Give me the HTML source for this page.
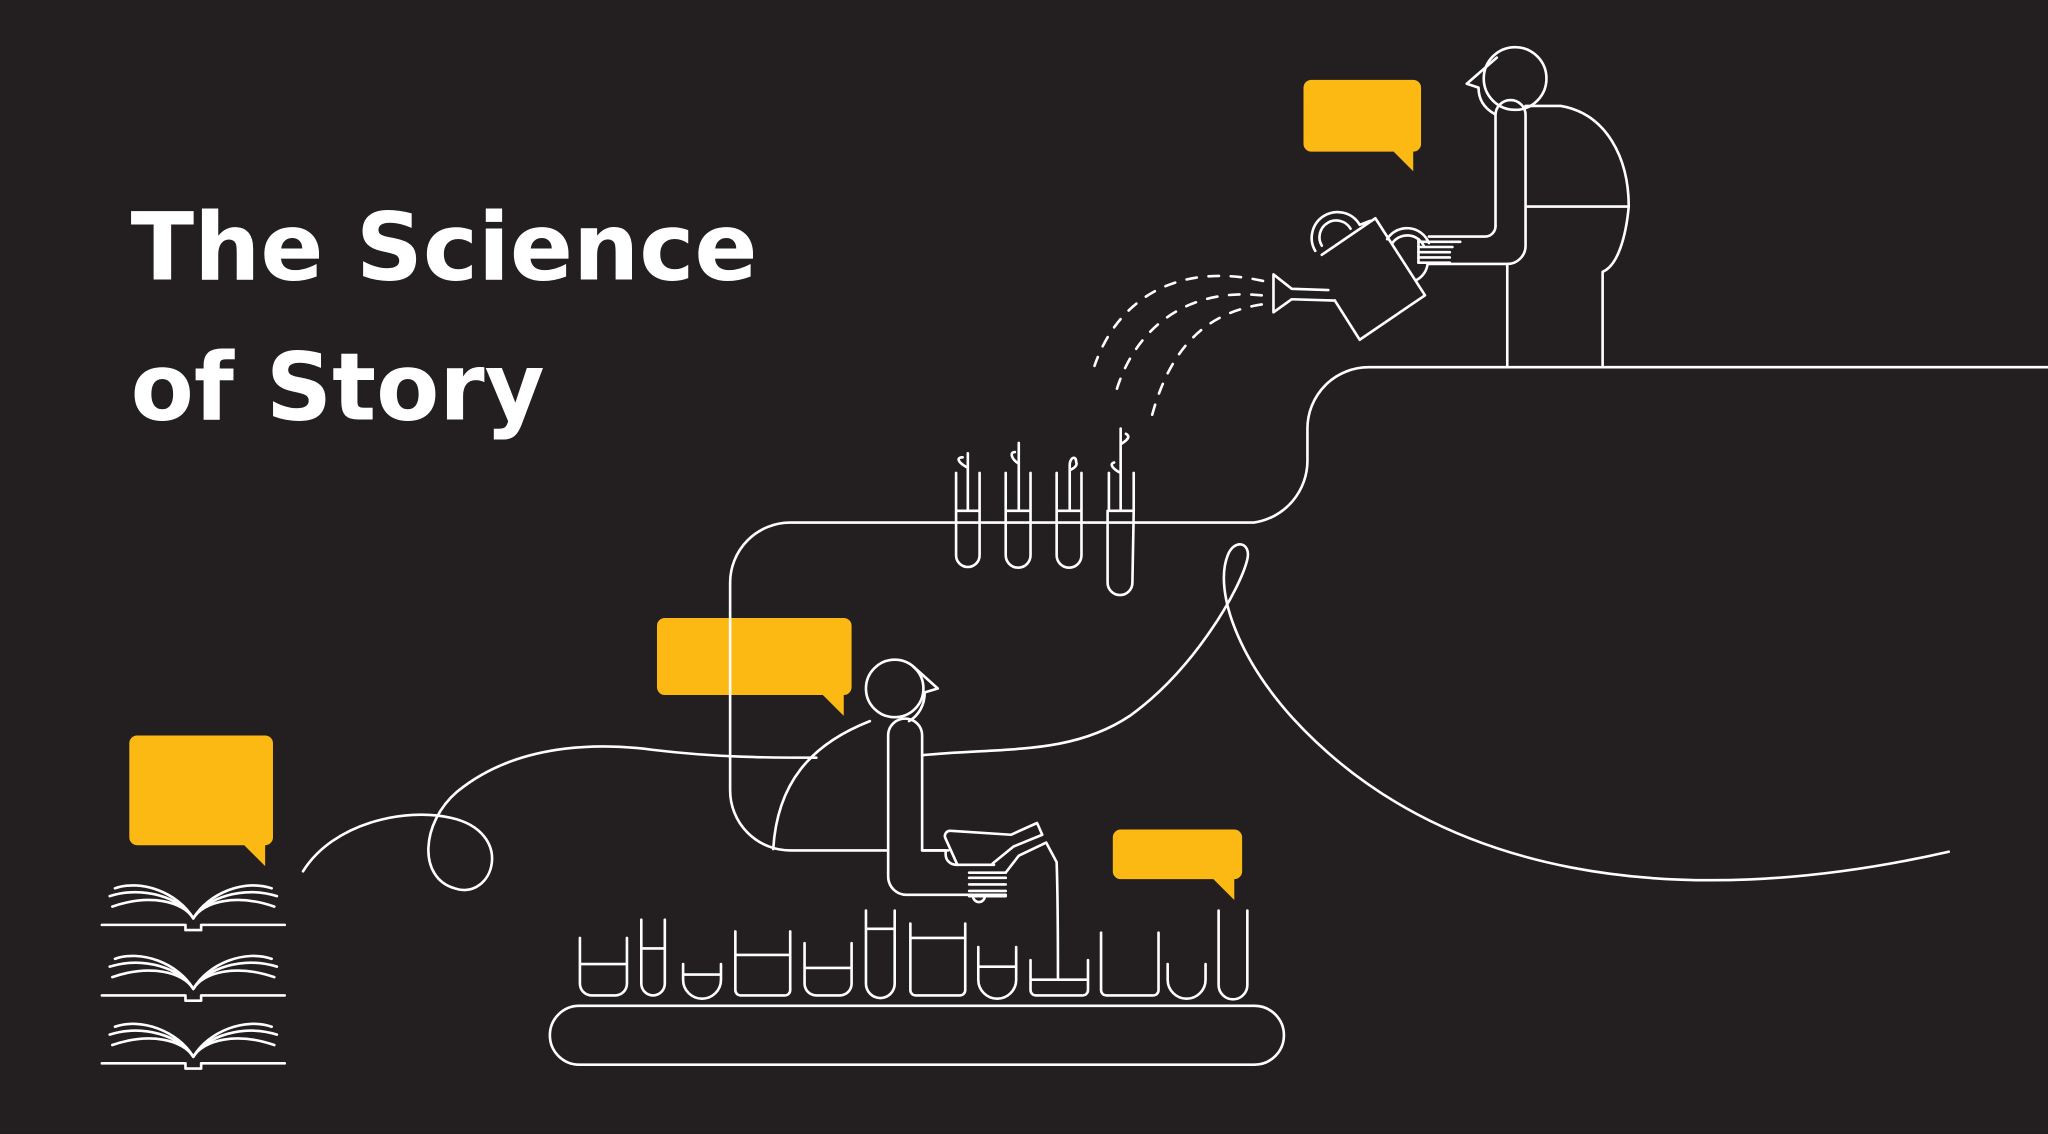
<!DOCTYPE html>
<html><head><meta charset="utf-8"><style>
html,body{margin:0;padding:0;background:#231f20;}
svg{display:block;}
</style></head><body>
<svg width="2048" height="1134" viewBox="0 0 1568 868" xmlns="http://www.w3.org/2000/svg">
<rect width="1568" height="868" fill="#231f20"/>
<g font-family="DejaVu Sans, Liberation Sans, sans-serif" font-weight="bold" fill="#fff" font-size="72">
<text x="100" y="214" textLength="480" lengthAdjust="spacingAndGlyphs">The Science</text>
<text x="100" y="321" textLength="317" lengthAdjust="spacingAndGlyphs">of Story</text>
</g>
<g fill="#fdb913">
<path d="M1004,61h78a6,6 0 0 1 6,6v43a6,6 0 0 1 -6,6v15l-15,-15h-63a6,6 0 0 1 -6,-6v-43a6,6 0 0 1 6,-6z"/>
<path d="M509,473h137a6,6 0 0 1 6,6v47a6,6 0 0 1 -6,6v16l-16,-16h-121a6,6 0 0 1 -6,-6v-47a6,6 0 0 1 6,-6z"/>
<path d="M105,563h98a6,6 0 0 1 6,6v72a6,6 0 0 1 -6,6v16l-16,-16h-82a6,6 0 0 1 -6,-6v-72a6,6 0 0 1 6,-6z"/>
<path d="M858,635h87a6,6 0 0 1 6,6v26a6,6 0 0 1 -6,6v16l-16,-16h-71a6,6 0 0 1 -6,-6v-26a6,6 0 0 1 6,-6z"/>
</g>
<g fill="none" stroke="#fff" stroke-width="2" stroke-linecap="round" stroke-linejoin="round">
<path d="M1568,281H1048a47,47 0 0 0 -47,47v24a48,48 0 0 1 -41,48H605a46,46 0 0 0 -46,46v159a46,46 0 0 0 46,46h75"/>
<rect x="421" y="770" width="562" height="45" rx="22.5"/>
<path d="M444,718v35a9,9 0 0 0 9,9h18a9,9 0 0 0 9,-9v-35M444,738h36"/>
<path d="M491,704v49a9,9 0 0 0 18,0v-49M491,726h18"/>
<path d="M523,738v12a12,12 0 0 0 29,0v-12M523,746h29"/>
<path d="M563,713v45a4,4 0 0 0 4,4h34a4,4 0 0 0 4,-4v-45M563,731h42"/>
<path d="M616,722v31a9,9 0 0 0 9,9h18a9,9 0 0 0 9,-9v-31M616,741h36"/>
<path d="M663,697v56a9,9 0 0 0 22,0v-56M663,711h22"/>
<path d="M697,707v51a4,4 0 0 0 4,4h34a4,4 0 0 0 4,-4v-51M697,718h42"/>
<path d="M749,725v25a12,12 0 0 0 29,0v-25M749,740h29"/>
<path d="M789,735v23a4,4 0 0 0 4,4h36a4,4 0 0 0 4,-4v-23M789,750h44"/>
<path d="M843,714v44a4,4 0 0 0 4,4h36a4,4 0 0 0 4,-4v-44"/>
<path d="M894,738v12a12,12 0 0 0 29,0v-12"/>
<path d="M933,697v57a11,11 0 0 0 22,0v-57"/>
<path d="M732,362v29h18v-29M732,391v34a9,9 0 0 0 18,0v-34M741,391v-44M741,358c-8,-4 -9,-8 -4,-8"/>
<path d="M770,362v29h19v-29M770,391v34a9.5,9.5 0 0 0 19,0v-34M780,391v-52M780,355c-6,-4 -7,-9 -3,-9"/>
<path d="M809,362v29h19v-29M809,391v34a9.5,9.5 0 0 0 19,0v-34M819,391v-35c0,-6 5,-8 5,-2M819,360c4,-2 6,-4 5,-6"/>
<path d="M849,362v29h19v-29M848,391l0,55a9.5,9.5 0 0 0 19,0l1,-55M858,391v-63M858,340c5,-3 8,-6 4,-8M858,362c-6,-3 -9,-7 -5,-8"/>
<path d="M232,667C255,630 310,618 345,626C395,637 378,690 348,680C320,672 322,630 350,606C400,565 470,570 500,574C550,580 590,580 625,580"/>
<path d="M707,578C770,572 820,578 865,548C915,512 950,450 955,428C958,415 945,412 940,425C930,450 945,500 990,550C1100,670 1280,700 1492,652"/>
<circle cx="685" cy="527" r="22"/>
<path d="M699,510l19,17-10,3c0,10 -5,18 -12,22"/>
<path d="M666,552C620,570 595,600 592,650"/>
<path d="M680,651v-88a13,13 0 0 1 26,0v88h18v3a8,8 0 0 0 8,8h29"/>
<path d="M680,651v20a14,14 0 0 0 14,14h76"/>
<path d="M706,651h20"/>
<path d="M733,662l-9,-20a4,4 0 0 1 4,-6l46,3 20,-9 4,9 -22,9-16,13"/>
<path d="M742,668h28M742,672h28M742,677h28M742,682h28M742,686h28"/>
<path d="M745,686a4,4 0 0 0 9,0"/>
<path d="M770,668l10,-13 21,-10 8,15c1,30 1,60 1,90"/>
<circle cx="1160" cy="60" r="24"/>
<path d="M1146,44l-23,20 9,3c0,10 5,16 12,20"/>
<path d="M1168,81h27c35,6 52,40 52,77h-78"/>
<path d="M1247,158c-2,22 -8,45 -20,50v73"/>
<path d="M1154,202v79"/>
<path d="M1145,173v-85a11.5,11.5 0 0 1 23,0v100a14,14 0 0 1 -14,14h-60"/>
<path d="M1145,173a8,8 0 0 1 -8,8h-43"/>
<path d="M1086,185h32M1086,189h26M1086,193h24M1086,197h24M1086,201h24"/>
<path d="M1086,183v18"/>
<path d="M1012,195l41,-28 38,59 -50,34 -19,-30"/>
<path d="M1017,222l-28,-1 -14,-11v29l14,-10 33,1"/>
<path d="M1007,192a18,18 0 1 1 34,-20l8,-3"/>
<path d="M1012,188a12,12 0 1 1 22,-13"/>
<path d="M1062,183a18,18 0 0 1 32,3M1066,186a14,14 0 0 1 24,2"/>
<path d="M1093,202a16,16 0 0 1 -8,12"/>
<path stroke-dasharray="8,9" d="M967,215C900,200 855,230 838,280"/>
<path stroke-dasharray="8,9" d="M966,226C910,220 870,250 855,298"/>
<path stroke-dasharray="8,9" d="M966,233C920,240 895,270 882,318"/>
<g id="bk">
<path d="M78,708h64v4h12v-4h64M142,712v-4M154,712v-4"/>
<path d="M148,703C140,690 115,684 86,694M148,703C156,690 181,684 210,694"/>
<path d="M148,703C138,687 110,678 84,686M148,703C158,687 186,678 212,686"/>
<path d="M148,703C136,683 108,673 88,680M148,703C160,683 188,673 208,680"/>
</g>
<use href="#bk" y="54"/>
<use href="#bk" y="106"/>
</g>
</svg>
</body></html>
